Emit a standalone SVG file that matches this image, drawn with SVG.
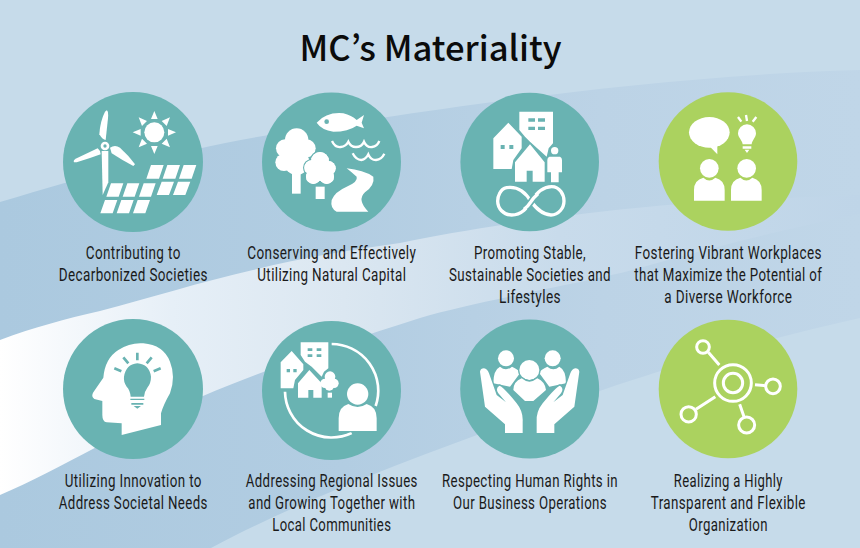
<svg xmlns="http://www.w3.org/2000/svg" width="860" height="548" viewBox="0 0 860 548">
<style>
.w{fill:#fff}.t{fill:#69b3b2}.teal{fill:#69b3b2}.green{fill:#abd25f}
.wl{fill:none;stroke:#fff;stroke-linecap:butt}
.tl{fill:none;stroke:#69b3b2}
.to{stroke:#69b3b2;stroke-width:8;paint-order:stroke;stroke-linejoin:round}
.gl{fill:none;stroke:#fff;stroke-width:9}
text{fill:#1a1a1a;text-anchor:middle}
.title{font-family:"Noto Sans CJK JP","Noto Sans",sans-serif;font-size:35px;font-weight:500;fill:#0b0b0b}
.lb{font-family:Roboto,"Liberation Sans",sans-serif;font-size:17.5px;letter-spacing:.5px}
</style>
<defs>
<linearGradient id="band" gradientUnits="userSpaceOnUse" x1="0" y1="0" x2="860" y2="0">
<stop offset="0" stop-color="#abc9df"/><stop offset=".4" stop-color="#b2cde2"/><stop offset=".7" stop-color="#bcd3e6"/><stop offset="1" stop-color="#c0d6e8"/>
</linearGradient>
<linearGradient id="swoosh" gradientUnits="userSpaceOnUse" x1="0" y1="0" x2="860" y2="0">
<stop offset="0" stop-color="#ffffff"/><stop offset=".07" stop-color="#f6f9fc"/><stop offset=".2" stop-color="#e6eff7"/><stop offset=".4" stop-color="#dbe7f1"/><stop offset=".65" stop-color="#c8dbeb"/><stop offset="1" stop-color="#bfd5e8"/>
</linearGradient>
</defs>
<g id="background">
<rect width="860" height="548" fill="#c6dbea"/>
<path d="M0 202C90 175 180 150 263 136C420 112 640 76 860 70V318C760 340 640 375 560 405C440 448 310 495 211 548H0Z" fill="url(#band)"/>
<path d="M0 340C35 327 65 319 100 311C150 298 200 282 253 270C300 258 350 250 400 243C480 226 600 210 680 204C740 200 800 197 860 195V214C790 228 720 245 640 268C590 282 480 300 420 318C350 340 270 368 203 396C130 425 60 470 0 495Z" fill="url(#swoosh)"/>
</g>
<g id="connectors"/>
<text class="title" x="430.5" y="61" textLength="262" lengthAdjust="spacingAndGlyphs">MC’s Materiality</text>

<g id="node1">
<circle class="teal" cx="133" cy="162" r="70"/>
<g transform="translate(50,85) scale(.33333)">
<path class="w" d="M155 198L175 198L175 292L158 330Z"/>
<path class="w" d="M170 76Q176 78 174 100L167 165Q158 165 148 148Q150 110 165 80Z"/>
<path class="w" d="M72 232Q68 226 80 220L143 190Q152 197 152 208Q120 220 80 232Z"/>
<path class="w" d="M180 188Q195 178 210 188Q235 210 255 238L250 243Q215 225 185 205Z"/>
<circle class="w" cx="165" cy="183" r="13"/><circle class="t" cx="165" cy="183" r="5"/>
<circle class="w" cx="313" cy="142" r="30"/>
<path class="w" d="M313 78L303 102H323ZM378 142L354 132V152ZM313 207L303 183H323ZM248 142L272 132V152ZM360 97L335 108L350 123ZM266 97L291 108L276 123ZM360 187L335 176L350 161ZM266 187L291 176L276 161Z"/>
<path class="w" d="M303 240H341L327 281H289ZM352 240H390L376 281H338ZM401 240H439L425 281H387ZM335 290H372L357 330H320ZM384 290H421L406 330H369ZM183 295H220L206 335H169ZM232 295H268L254 335H218ZM281 295H317L303 335H267ZM165 345H202L188 385H151ZM214 345H251L237 385H200ZM263 345H300L286 385H249Z"/>
</g>
<text class="lb" transform="translate(133.3,259) scale(.84,1)" textLength="113.1" lengthAdjust="spacingAndGlyphs">Contributing to</text>
<text class="lb" transform="translate(133.3,281) scale(.84,1)" textLength="177.4" lengthAdjust="spacingAndGlyphs">Decarbonized Societies</text>
</g>

<g id="node2">
<circle class="teal" cx="331.5" cy="162" r="69.5"/>
<g transform="translate(50,85) scale(.33333)">
<path class="w" d="M800 113Q830 80 880 85Q905 92 920 105L942 90L935 113L942 130L920 122Q895 140 850 140Q815 135 800 113Z"/>
<circle class="t" cx="830" cy="110" r="7"/>
<path class="wl" stroke-width="7" d="M846 168Q855 188 872 186Q888 184 895 170Q902 186 918 186Q935 186 942 170Q950 188 966 186Q982 184 988 168"/>
<path class="wl" stroke-width="7" d="M908 205Q918 225 934 225Q948 223 955 208Q962 225 978 225Q995 223 1003 206"/>
<rect class="w" x="726" y="265" width="26" height="61"/>
<g class="w"><circle cx="740" cy="165" r="35"/><circle cx="705" cy="190" r="27"/><circle cx="770" cy="190" r="27"/><circle cx="702" cy="232" r="26"/><circle cx="740" cy="232" r="38"/></g>
<g class="w to"><circle cx="810" cy="228" r="27"/><circle cx="785" cy="248" r="22"/><circle cx="835" cy="250" r="22"/><circle cx="790" cy="275" r="22"/><circle cx="830" cy="275" r="22"/></g>
<g class="w"><circle cx="810" cy="228" r="27"/><circle cx="785" cy="248" r="22"/><circle cx="835" cy="250" r="22"/><circle cx="790" cy="275" r="22"/><circle cx="830" cy="275" r="22"/><circle cx="810" cy="260" r="28"/></g>
<rect class="w" x="797" y="305" width="27" height="37"/>
<path class="w" d="M890 250Q940 255 970 275Q975 300 945 322Q920 345 955 380L860 380Q840 370 845 345Q855 320 890 305Q925 290 920 275Q905 262 890 250Z"/>
</g>
<text class="lb" transform="translate(331.8,259) scale(.84,1)" textLength="201.2" lengthAdjust="spacingAndGlyphs">Conserving and Effectively</text>
<text class="lb" transform="translate(331.8,281) scale(.84,1)" textLength="177.4" lengthAdjust="spacingAndGlyphs">Utilizing Natural Capital</text>
</g>

<g id="node3">
<circle class="teal" cx="529.7" cy="162" r="69.3"/>
<g transform="translate(450,85) scale(.33333)">
<path class="w" d="M208 80H309V175L296 190L290 215L240 170L225 155L208 135Z"/>
<path class="t" d="M235 100H255V110H235ZM264 100H285V110H264ZM235 125H255V135H235ZM264 125H285V135H264Z"/>
<path class="w" d="M175 113L215 155V190L190 225L185 252H130V160Z"/>
<path class="t" d="M152 180H164V192H152ZM178 180H190V192H178Z"/>
<path class="w to" d="M240 178L284 232V290H248V257H230V290H195V232Z"/>
<circle class="w" cx="314" cy="197" r="11"/>
<path class="w to" stroke-width="4" d="M298 215H330Q336 218 336 225V262H326V292H303V262H292V225Q292 218 298 215Z"/>
<path class="wl" stroke-width="10" d="M243 350C220 310 190 305 170 308C150 312 143 335 143 348C143 370 160 390 185 390C215 390 235 365 243 350C255 330 275 305 305 305C330 305 342 330 342 348C342 370 325 390 303 390C275 390 255 365 243 350"/>
<path class="tl" stroke-width="20" d="M228 368Q236 361 243 350Q250 339 258 331"/>
<path class="wl" stroke-width="10" d="M222 373Q235 363 243 350Q250 338 264 326"/>
</g>
<text class="lb" transform="translate(530,259) scale(.84,1)" textLength="133.3" lengthAdjust="spacingAndGlyphs">Promoting Stable,</text>
<text class="lb" transform="translate(530,281) scale(.84,1)" textLength="192.9" lengthAdjust="spacingAndGlyphs">Sustainable Societies and</text>
<text class="lb" transform="translate(530,303) scale(.84,1)" textLength="73.8" lengthAdjust="spacingAndGlyphs">Lifestyles</text>
</g>

<g id="node4">
<circle class="green" cx="728" cy="161.5" r="69.3"/>
<g transform="translate(450,85) scale(.33333)">
<ellipse class="w" cx="778" cy="142" rx="61" ry="46"/>
<path class="w" d="M780 185L802 208V180Z"/>
<path class="w" d="M864 145A27 27 0 0 1 918 145C918 158 906 166 905 178H878C877 166 864 158 864 145ZM878 184H904V191H878ZM884 194H898L891 204Z"/>
<path class="wl" stroke-width="7" d="M864 96L874 110M888 90L891 108M919 96L908 110"/>
<circle class="w" cx="778" cy="250" r="28"/><circle class="w" cx="890" cy="250" r="28"/>
<path class="w" d="M732 347V315Q732 285 760 278Q778 295 796 278Q824 285 824 315V347ZM843 347V315Q843 285 871 278Q889 295 907 278Q935 285 935 315V347Z"/>
</g>
<text class="lb" transform="translate(728.3,259) scale(.84,1)" textLength="222.6" lengthAdjust="spacingAndGlyphs">Fostering Vibrant Workplaces</text>
<text class="lb" transform="translate(728.3,281) scale(.84,1)" textLength="223.8" lengthAdjust="spacingAndGlyphs">that Maximize the Potential of</text>
<text class="lb" transform="translate(728.3,303) scale(.84,1)" textLength="152.4" lengthAdjust="spacingAndGlyphs">a Diverse Workforce</text>
</g>

<g id="node5">
<circle class="teal" cx="133" cy="389" r="70"/>
<g transform="translate(50,315) scale(.33333)">
<path class="w" d="M215 360V325L170 322Q157 320 157 300V258L133 252Q122 245 130 232L160 188Q165 130 205 105Q240 82 280 85Q340 90 360 140Q378 185 360 235Q340 270 333 295V330Z"/>
<path class="t" d="M242 245Q240 225 230 215Q220 200 222 185Q228 148 262 145Q298 148 303 185Q303 205 292 218Q283 230 282 245Z"/>
<path class="t" d="M241 251H283V255H241ZM244 264H280V269H244ZM251 273H273L262 281Z"/>
<path class="tl" stroke-width="8" d="M193 160L214 169M220 127L235 145M262 113V136M305 127L290 145M332 160L311 169"/>
</g>
<text class="lb" transform="translate(133.3,487) scale(.84,1)" textLength="163.1" lengthAdjust="spacingAndGlyphs">Utilizing Innovation to</text>
<text class="lb" transform="translate(133.3,509) scale(.84,1)" textLength="177.4" lengthAdjust="spacingAndGlyphs">Address Societal Needs</text>
</g>

<g id="node6">
<circle class="teal" cx="331.5" cy="390.5" r="69.5"/>
<g transform="translate(50,315) scale(.33333)">
<path class="w" d="M752 82H835V160L822 170L815 185L785 155L765 140L752 120Z"/>
<path class="t" d="M773 100H787V108H773ZM800 100H814V108H800ZM773 118H787V126H773ZM800 118H814V126H800Z"/>
<path class="w" d="M725 108L760 148V165L735 195L730 220H692V142Z"/>
<path class="t" d="M710 162H720V172H710ZM730 162H740V172H730Z"/>
<path class="w to" d="M778 165L815 205V248H790V225H775V248H744V205Z"/>
<g class="w"><circle cx="840" cy="185" r="16"/><circle cx="825" cy="205" r="14"/><circle cx="852" cy="205" r="14"/><circle cx="838" cy="213" r="14"/></g>
<rect class="w" x="833" y="233" width="13" height="15"/>
<path class="wl" stroke-width="8" d="M845 87A140 140 0 0 1 977 273M705 230A140 140 0 0 0 905 354"/>
<path class="w to" d="M866 348V310Q866 275 895 267Q923 285 950 267Q980 275 980 310V348Z"/>
<circle class="w to" cx="923" cy="237" r="32"/>
</g>
<text class="lb" transform="translate(331.8,487) scale(.84,1)" textLength="204.8" lengthAdjust="spacingAndGlyphs">Addressing Regional Issues</text>
<text class="lb" transform="translate(331.8,509) scale(.84,1)" textLength="198.8" lengthAdjust="spacingAndGlyphs">and Growing Together with</text>
<text class="lb" transform="translate(331.8,531) scale(.84,1)" textLength="141.7" lengthAdjust="spacingAndGlyphs">Local Communities</text>
</g>

<g id="node7">
<circle class="teal" cx="529.7" cy="389" r="69.5"/>
<g transform="translate(450,315) scale(.33333)">
<circle class="w" cx="168" cy="130" r="24"/><circle class="w" cx="308" cy="130" r="24"/>
<path class="w" d="M130 205Q130 165 150 155Q168 170 186 155Q205 165 212 172L180 215Z"/>
<path class="w" d="M348 205Q348 165 328 155Q310 170 292 155Q273 165 266 172L298 215Z"/>
<circle class="w to" cx="238" cy="165" r="30"/>
<path class="w to" d="M190 225Q190 200 215 190Q238 210 262 190Q285 200 288 225L250 258H225Z"/>
<path class="w to" stroke-width="6" d="M90 170Q92 160 102 160Q112 162 117 175L140 240L168 262L145 235Q135 220 148 212Q160 215 200 265Q220 290 218 320V354H165V328L105 275Z"/>
<path class="w to" stroke-width="6" transform="translate(478,0) scale(-1,1)" d="M90 170Q92 160 102 160Q112 162 117 175L140 240L168 262L145 235Q135 220 148 212Q160 215 200 265Q220 290 218 320V354H165V328L105 275Z"/>
</g>
<text class="lb" transform="translate(530,487) scale(.84,1)" textLength="209.5" lengthAdjust="spacingAndGlyphs">Respecting Human Rights in</text>
<text class="lb" transform="translate(530,509) scale(.84,1)" textLength="183.3" lengthAdjust="spacingAndGlyphs">Our Business Operations</text>
</g>

<g id="node8">
<circle class="green" cx="728" cy="389" r="69.3"/>
<g transform="translate(450,315) scale(.33333)">
<circle class="gl" cx="849" cy="204" r="55"/><circle class="gl" cx="849" cy="204" r="29"/>
<circle class="gl" cx="759" cy="96" r="19"/><circle class="gl" cx="969" cy="214" r="22"/><circle class="gl" cx="716" cy="298" r="23"/><circle class="gl" cx="890" cy="330" r="24"/>
<path class="gl" d="M775 112L808 150M915 209L945 212M796 245L738 283M869 268L882 305"/>
</g>
<text class="lb" transform="translate(728.3,487) scale(.84,1)" textLength="129.8" lengthAdjust="spacingAndGlyphs">Realizing a Highly</text>
<text class="lb" transform="translate(728.3,509) scale(.84,1)" textLength="184.5" lengthAdjust="spacingAndGlyphs">Transparent and Flexible</text>
<text class="lb" transform="translate(728.3,531) scale(.84,1)" textLength="94" lengthAdjust="spacingAndGlyphs">Organization</text>
</g>
</svg>
